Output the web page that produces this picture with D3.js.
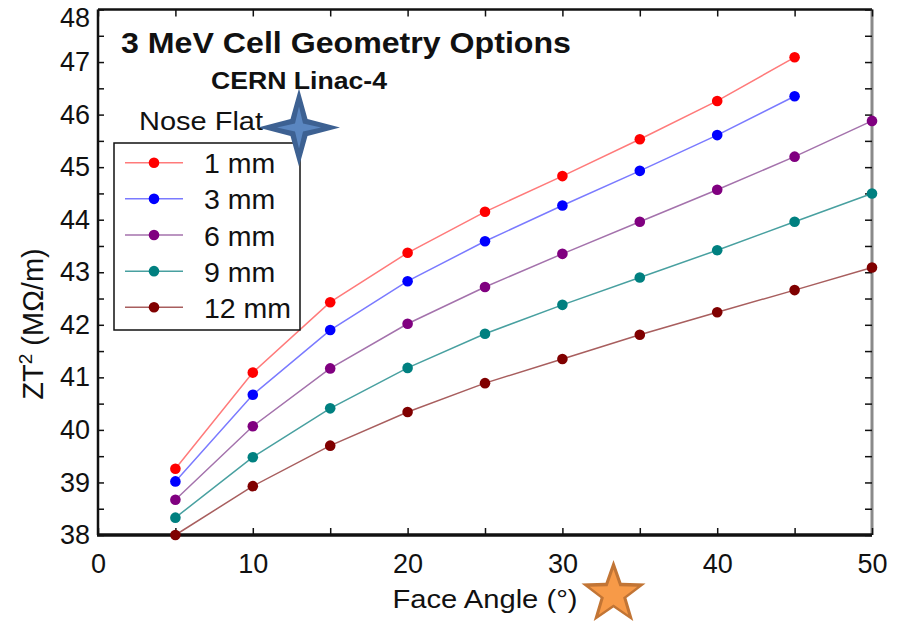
<!DOCTYPE html>
<html>
<head>
<meta charset="utf-8">
<script src="https://cdn.jsdelivr.net/npm/d3@7"></script>
<style>
  html, body { margin: 0; padding: 0; background: #fff; }
  svg { display: block; }
  text { font-family: "Liberation Sans", Arial, sans-serif; fill: #111; }
</style>
</head>
<body>
<svg id="chart" width="903" height="621"></svg>
<script>
// Face angle (degrees) sampled for every nose-flat option
const angles = [5, 10, 15, 20, 25, 30, 35, 40, 45, 50];

// ZT^2 (MOhm/m) per nose flat width
const flat1mm  = [39.26, 41.09, 42.43, 43.37, 44.15, 44.83, 45.53, 46.26, 47.09];
const flat3mm  = [39.02, 40.67, 41.90, 42.83, 43.59, 44.27, 44.93, 45.61, 46.35];
const flat6mm  = [38.67, 40.07, 41.17, 42.02, 42.72, 43.35, 43.96, 44.57, 45.20, 45.88];
const flat9mm  = [38.33, 39.48, 40.41, 41.18, 41.83, 42.38, 42.90, 43.42, 43.96, 44.50];
const flat12mm = [38.00, 38.93, 39.70, 40.34, 40.89, 41.35, 41.81, 42.24, 42.66, 43.09];

const seriesNames = ["1 mm", "3 mm", "6 mm", "9 mm", "12 mm"];
const seriesValues = [flat1mm, flat3mm, flat6mm, flat9mm, flat12mm];
const markerColors = ["#ff0000", "#0000ff", "#800080", "#008080", "#800000"];
const lineColors = ["#ff7a7a", "#7a7aff", "#a472ac", "#48a0a0", "#a85e5e"];

const xTicks = [0, 10, 20, 30, 40, 50];
const yTicks = [38, 39, 40, 41, 42, 43, 44, 45, 46, 47, 48];

const svg = d3.select("#chart");

const x = d3.scaleLinear().domain([0, 50]).range([98, 872]);
const y = d3.scaleLinear().domain([38, 48]).range([535, 9.5]);

// ---- frame: top and right edges with inward ticks
svg.append("line").attr("x1", x(0)).attr("x2", x(50)).attr("y1", y(48)).attr("y2", y(48))
  .attr("stroke", "#111").attr("stroke-width", 2.5);
svg.append("line").attr("x1", x(50)).attr("x2", x(50)).attr("y1", y(48)).attr("y2", y(38))
  .attr("stroke", "#8a8a8a").attr("stroke-width", 3);

svg.append("g").attr("transform", `translate(0,${y(48)})`)
  .call(d3.axisTop(x).tickValues(d3.range(0, 51, 5)).tickSize(-7).tickFormat(""))
  .call(g => g.select(".domain").remove())
  .call(g => g.selectAll("line").attr("stroke", "#111").attr("stroke-width", 1.5));

svg.append("g").attr("transform", `translate(${x(50)},0)`)
  .call(d3.axisRight(y).tickValues(d3.range(38, 48.01, 0.5)).tickSize(-7).tickFormat(""))
  .call(g => g.select(".domain").remove())
  .call(g => g.selectAll("line").attr("stroke", "#111").attr("stroke-width", 1.5));

// ---- left axis
svg.append("g").attr("transform", `translate(${x(0)},0)`)
  .call(d3.axisLeft(y).tickValues(d3.range(38, 48.01, 0.5)).tickSize(-6).tickFormat(""))
  .call(g => g.select(".domain").remove())
  .call(g => g.selectAll("line").attr("stroke", "#111").attr("stroke-width", 1.5));

svg.append("g").attr("transform", `translate(${x(0)},0)`)
  .call(d3.axisLeft(y).tickValues(yTicks).tickSize(0).tickPadding(8).tickFormat(d3.format("d")))
  .call(g => g.select(".domain").remove())
  .call(g => g.selectAll("text").attr("font-size", 27).attr("fill", "#222")
    .attr("font-family", "'Liberation Sans', Arial, sans-serif"))
  // the topmost label sits a little below the frame so it stays on the page
  .call(g => g.selectAll(".tick").filter(d => d === 48).select("text").attr("dy", "0.62em"));

svg.append("line").attr("x1", x(0)).attr("x2", x(0)).attr("y1", y(48)).attr("y2", y(38))
  .attr("stroke", "#111").attr("stroke-width", 2.5);

// ---- bottom axis
svg.append("g").attr("transform", `translate(0,${y(38)})`)
  .call(d3.axisBottom(x).tickValues(d3.range(0, 51, 5)).tickSize(-7).tickFormat(""))
  .call(g => g.select(".domain").remove())
  .call(g => g.selectAll("line").attr("stroke", "#111").attr("stroke-width", 1.5));

svg.append("g").attr("transform", `translate(0,${y(38)})`)
  .call(d3.axisBottom(x).tickValues(xTicks).tickSize(0).tickPadding(19).tickFormat(d3.format("d")))
  .call(g => g.select(".domain").remove())
  .call(g => g.selectAll("text").attr("font-size", 27).attr("fill", "#222")
    .attr("font-family", "'Liberation Sans', Arial, sans-serif"));

svg.append("line").attr("x1", x(0) - 1).attr("x2", x(50)).attr("y1", y(38)).attr("y2", y(38))
  .attr("stroke", "#111").attr("stroke-width", 3.5);

// ---- axis titles
svg.append("text").attr("x", 485).attr("y", 608).attr("text-anchor", "middle")
  .attr("font-size", 26).attr("textLength", 185).attr("lengthAdjust", "spacingAndGlyphs")
  .text("Face Angle (°)");

const yTitle = svg.append("text").attr("transform", "translate(43,324) rotate(-90)")
  .attr("text-anchor", "middle").attr("font-size", 29);
yTitle.append("tspan").text("ZT");
yTitle.append("tspan").attr("dy", -11).attr("font-size", 19).text("2");
yTitle.append("tspan").attr("dy", 11).text(" (MΩ/m)");

// ---- data series
const line = d3.line().x((d, i) => x(angles[i])).y(d => y(d));

seriesValues.forEach((vals, s) => {
  svg.append("path").attr("d", line(vals)).attr("fill", "none")
    .attr("stroke", lineColors[s]).attr("stroke-width", 1.5);
});
seriesValues.forEach((vals, s) => {
  svg.append("g").selectAll("circle").data(vals).join("circle")
    .attr("cx", (d, i) => x(angles[i])).attr("cy", d => y(d)).attr("r", 5.3)
    .attr("fill", markerColors[s]);
});

// ---- titles
svg.append("text").attr("x", 121).attr("y", 52.5).attr("font-size", 30).attr("font-weight", "bold")
  .attr("textLength", 450).attr("lengthAdjust", "spacingAndGlyphs")
  .text("3 MeV Cell Geometry Options");
svg.append("text").attr("x", 211).attr("y", 89).attr("font-size", 24).attr("font-weight", "bold")
  .attr("textLength", 176).attr("lengthAdjust", "spacingAndGlyphs")
  .text("CERN Linac-4");

// ---- legend
svg.append("text").attr("x", 139).attr("y", 130).attr("font-size", 26)
  .attr("textLength", 124).attr("lengthAdjust", "spacingAndGlyphs").text("Nose Flat");

svg.append("rect").attr("x", 114).attr("y", 143).attr("width", 186).attr("height", 187)
  .attr("fill", "#fff").attr("stroke", "#111").attr("stroke-width", 1.5);

const legendY = d3.scalePoint().domain(seriesNames).range([162.7, 307.3]);
seriesNames.forEach((name, s) => {
  const cy = legendY(name);
  svg.append("line").attr("x1", 125).attr("x2", 183).attr("y1", cy).attr("y2", cy)
    .attr("stroke", lineColors[s]).attr("stroke-width", 1.5);
  svg.append("circle").attr("cx", 154).attr("cy", cy).attr("r", 5.3).attr("fill", markerColors[s]);
  svg.append("text").attr("x", 204).attr("y", cy + 10.6).attr("font-size", 28.5).text(name);
});

// ---- decorative stars
function starPoints(cx, cy, n, rOuter, rInner, rot) {
  const pts = [];
  for (let k = 0; k < 2 * n; k++) {
    const r = k % 2 === 0 ? rOuter : rInner;
    const a = rot + k * Math.PI / n;
    pts.push([cx + r * Math.sin(a), cy - r * Math.cos(a)]);
  }
  return pts.map(p => p.join(",")).join(" ");
}
function fourStar(cx, cy, rx, ry, w) {
  return [[cx, cy - ry], [cx + w, cy - w], [cx + rx, cy], [cx + w, cy + w],
          [cx, cy + ry], [cx - w, cy + w], [cx - rx, cy], [cx - w, cy - w]]
    .map(p => p.join(",")).join(" ");
}

svg.append("polygon").attr("points", fourStar(299, 127.5, 41, 39, 8.5)).attr("fill", "#3d6192");
svg.append("polygon").attr("points", fourStar(299, 127.5, 22, 21, 4)).attr("fill", "#5a86c0");

svg.append("polygon").attr("points", starPoints(613.5, 593.8, 5, 33.7, 13.6, 0)).attr("fill", "#c27535");
svg.append("polygon").attr("points", starPoints(613.5, 594.5, 5, 25, 10.1, 0)).attr("fill", "#f79a48");
</script>
</body>
</html>
